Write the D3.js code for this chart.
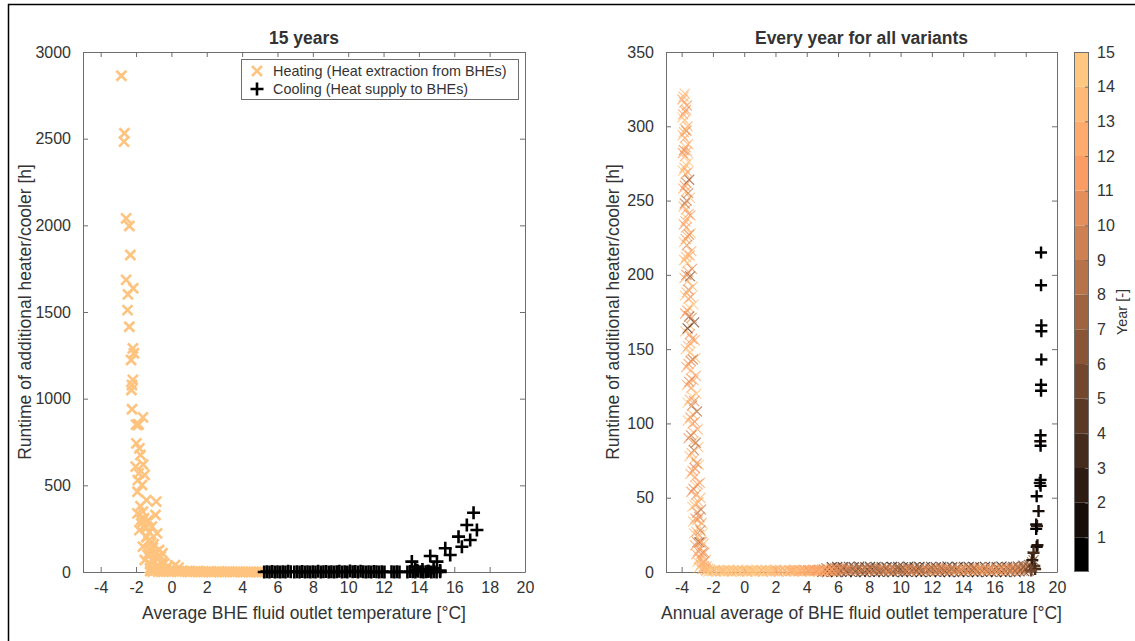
<!DOCTYPE html>
<html lang="en">
<head>
<meta charset="UTF-8">
<title>Heater/cooler runtime vs BHE fluid outlet temperature</title>
<script src="https://d3js.org/d3.v7.min.js"></script>
<style>
  body { margin: 0; background: #fff; font-family: "Liberation Sans", Arial, sans-serif; }
  svg text { fill: #333; }
  .tick line, .domain { stroke: #6e6e6e; }
</style>
</head>
<body>
<div id="chart"></div>
<script>
// ---- data: left panel (15 years) ----
const heatTemp = [-2.83,-2.66,-2.68,-2.56,-2.38,-2.32,-2.56,-2.16,-2.46,-2.48,-2.38,-2.18,-2.12,-2.28,-2.18,-2.23,-2.26,-2.23,-1.61,-2.0,-1.92,-1.85,-1.98,-1.81,-1.75,-2.02,-1.85,-1.51,-1.66,-1.92,-0.86,-1.41,-1.92,-1.61,-1.71,-0.9,-1.31,-1.81,-0.81,-1.41,-1.1,-1.61,-1.21,-0.7,-0.5,-1.51,-1.1,-0.81,-0.4,0.21,-1.21,
  -1.9,-1.6,-1.7,-1.45,-1.3,-1.0,-1.35,-0.95,-0.6,-1.1,-0.7,-0.3,0.0,-0.2,0.4,
  -1.75,-1.55,-1.5,-1.25,-1.4,-1.15,-1.05,-0.85,-1.3,-0.75,-1.0,-0.55,-1.2,-0.9,-0.45,-0.65,
  -1.2,-1.05,-0.9,-0.75,-0.6,-0.45,-0.3,-0.15,0.0,0.15,0.3,0.45,0.6,0.75,0.9,1.05,1.2,1.35,1.5,1.65,1.8,1.95,2.1,2.25,2.4,2.55,2.7,2.85,3.0,3.15,3.3,3.45,3.6,3.75,3.9,4.05,4.2,4.35,4.5,4.65,4.8,4.95,5.1];
const heatRuntime = [2863,2531,2483,2040,1996,1829,1685,1637,1602,1511,1415,1290,1262,1223,1108,1079,1050,939,892,850,848,852,742,713,675,608,569,560,502,463,406,415,338,348,300,329,300,242,223,204,262,146,127,127,108,69,69,79,50,40,21,
  530,620,280,250,180,160,100,110,90,40,30,20,15,35,25,
  380,310,260,230,200,170,140,115,95,85,60,55,45,30,12,10,
  6,2,9,3,11,1,7,2,10,4,6,1,8,3,5,0,4,1,6,0,3,1,4,0,2,1,3,0,2,1,2,0,1,2,0,1,0,1,0,1,0,0,0];
const coolTemp = [5.25,5.4,5.55,5.7,5.85,6.0,6.15,6.3,6.45,6.6,6.75,6.95,7.1,7.25,7.4,7.55,7.7,7.85,8.0,8.15,8.3,8.45,8.6,8.75,8.9,9.05,9.2,9.35,9.5,9.65,9.8,9.95,10.1,10.25,10.4,10.55,10.7,10.85,11.0,11.15,11.3,11.45,11.6,11.75,11.9,12.05,12.45,12.6,12.75,12.9,13.35,13.5,13.65,13.8,13.95,14.1,14.25,14.4,14.55,14.7,14.85,15.0,15.2,
  13.6,13.79,14.64,15.02,14.83,15.49,15.77,16.24,16.43,16.71,16.9,17.09,17.28,13.9,14.2,14.5,15.2];
const coolRuntime = [0,2,0,3,0,1,0,2,0,4,1,0,2,0,3,0,1,0,2,0,5,0,1,3,0,2,0,1,4,0,2,0,6,1,3,0,5,2,0,1,0,3,1,0,2,0,1,0,2,0,0,3,1,0,4,2,0,1,5,0,2,0,1,
  60,27,92,60,21,137,98,204,146,271,185,342,242,10,15,5,8];

// ---- data: right panel (every year, all variants) ----
const varHeatTemp = [
  // steep heating strip: centre column
  -3.8,-3.84,-3.78,-3.82,-3.76,-3.8,-3.74,-3.78,-3.72,-3.76,-3.7,-3.74,-3.68,-3.72,-3.66,-3.7,-3.64,-3.66,-3.62,-3.64,-3.58,-3.6,-3.56,-3.56,-3.52,-3.52,-3.5,-3.48,-3.46,-3.44,-3.42,-3.4,-3.38,-3.38,-3.34,-3.34,-3.3,-3.3,-3.26,-3.24,-3.22,-3.2,-3.16,-3.14,-3.1,-3.08,-3.04,-3.0,-2.98,-2.94,-2.9,-2.86,-2.8,-2.76,-2.7,-2.64,-2.58,-2.5,-2.42,
  // left column
  -3.95,-3.96,-3.94,-3.92,-3.92,-3.9,-3.88,-3.86,-3.86,-3.84,-3.82,-3.8,-3.78,-3.76,-3.74,-3.7,-3.66,-3.62,-3.6,-3.56,-3.5,-3.44,-3.38,-3.32,-3.26,-3.2,-3.14,-3.06,-2.98,-2.9,
  // right column
  -3.66,-3.62,-3.6,-3.56,-3.52,-3.48,-3.44,-3.42,-3.38,-3.34,-3.3,-3.24,-3.2,-3.16,-3.12,-3.1,-3.06,-3.02,-2.98,-2.94,-2.9,-2.84,-2.8,-2.76,-2.72,-2.66,-2.6,-2.54,-2.46,-2.38,-2.3,
  // mid-right column
  -3.72,-3.7,-3.66,-3.62,-3.58,-3.56,-3.52,-3.48,-3.46,-3.42,-3.36,-3.32,-3.28,-3.24,-3.2,-3.16,-3.1,-3.04,-2.98,-2.92,-2.86,-2.8,-2.74,-2.66,-2.58,-2.48,
  // mid-left column
  -3.88,-3.9,-3.86,-3.86,-3.82,-3.8,-3.8,-3.76,-3.74,-3.72,-3.7,-3.68,-3.64,-3.62,-3.58,-3.56,-3.52,-3.48,-3.44,-3.4,-3.36,-3.3,-3.24,-3.18,-3.12,-3.06,-3.0,-2.94,-2.86,-2.78,-2.68,
  // band near zero: dark lower edge
  5.0,5.3,5.65,5.9,6.2,6.55,6.8,7.1,7.45,7.7,8.0,8.35,8.6,8.9,9.25,9.5,9.8,10.15,10.4,10.7,11.05,11.3,11.6,11.95,12.2,12.5,12.85,13.1,13.4,13.75,14.0,14.3,14.65,14.9,15.2,15.55,15.8,16.1,16.45,16.7,17.0,17.35,17.6,17.9,18.2,
  // dark upper edge
  5.6,5.95,6.3,6.7,7.0,7.35,7.75,8.05,8.4,8.8,9.1,9.45,9.85,10.15,10.5,10.9,11.2,11.55,11.95,12.25,12.6,13.0,13.3,13.65,14.05,14.35,14.7,15.1,15.4,15.75,16.15,16.45,16.8,17.2,17.5,17.85,18.2,
  // orange core
  3.0,3.3,3.6,3.9,4.2,4.5,4.8,5.1,5.4,5.7,6.0,6.3,6.6,6.9,7.2,7.5,7.8,8.1,8.4,8.7,9.0,9.3,9.6,9.9,10.2,10.5,10.8,11.1,11.4,11.7,12.0,12.3,12.6,12.9,13.2,13.5,13.8,14.1,14.4,14.7,15.0,15.3,15.6,15.9,16.2,16.5,16.8,17.1,17.4,17.7,18.0,18.25,18.4,18.5,18.45,
  5.15,5.45,5.75,6.05,6.35,6.65,6.95,7.25,7.55,7.85,8.15,8.45,8.75,9.05,9.35,9.65,9.95,10.25,10.55,10.85,11.15,11.45,11.75,12.05,12.35,12.65,12.95,13.25,13.55,13.85,14.15,14.45,14.75,15.05,15.35,15.65,15.95,16.25,16.55,16.85,17.15,17.45,17.75,18.05,
  5.25,5.6,5.95,6.3,6.65,7.0,7.35,7.7,8.05,8.4,8.75,9.1,9.45,9.8,10.15,10.5,10.85,11.2,11.55,11.9,12.25,12.6,12.95,13.3,13.65,14.0,14.35,14.7,15.05,15.4,15.75,16.1,16.45,16.8,17.15,17.5,17.85,18.15,
  // light left part, three rows
  -2.3,-2.05,-1.8,-1.55,-1.3,-1.05,-0.8,-0.55,-0.3,-0.05,0.2,0.45,0.7,0.95,1.2,1.45,1.7,1.95,2.2,2.45,2.7,2.95,3.2,3.45,3.7,3.95,4.2,4.45,4.7,4.95,5.2,5.45,5.7,5.95,
  -2.2,-1.9,-1.6,-1.3,-1.0,-0.7,-0.4,-0.1,0.2,0.5,0.8,1.1,1.4,1.7,2.0,2.3,2.6,2.9,3.2,3.5,3.8,4.1,4.4,4.7,5.0,5.3,5.6,5.9,6.2,
  -2.45,-2.15,-1.9,-1.65,-1.4,-1.15,-0.9,-0.65,-0.4,-0.15,0.1,0.35,0.6,0.85,1.1,1.35,1.6,1.85,2.1,2.35,2.6,2.85,3.1,3.35,3.6,3.85,4.1,4.35,4.6,4.85];
const varHeatRuntime = [
  322,316,310,304,298,292,286,280,274,268,262,256,250,244,238,232,226,220,214,208,202,196,190,184,178,172,166,160,154,148,142,136,130,124,118,112,106,100,94,88,82,76,70,64,58,52,46,40,35,30,25,20,16,12,9,6,4,2,1,
  318,306,294,282,270,258,246,234,222,210,198,186,174,162,150,138,126,114,102,90,78,66,54,44,34,26,18,12,7,3,
  314,300,288,276,264,252,240,228,216,204,192,180,168,156,144,132,120,108,96,84,72,60,50,42,33,26,19,13,8,4,2,
  311,297,283,269,255,241,227,213,199,185,171,157,143,129,115,101,87,73,59,47,37,28,20,13,7,3,
  320,308,296,284,272,260,248,236,224,212,200,188,176,164,152,140,128,116,104,92,80,68,56,45,36,27,20,14,9,5,2,
  0.1,0,0.2,0,0.1,0,0.3,0,0.1,0,0.2,0,0.1,0,0.3,0,0.2,0,0.1,0,0.2,0,0.1,0,0.3,0,0.2,0,0.1,0,0.2,0,0.1,0,0.3,0,0.2,0,0.1,0,0.2,0,0.4,0.6,0.9,
  3.3,3.5,3.2,3.4,3.3,3.6,3.2,3.4,3.5,3.3,3.2,3.5,3.4,3.3,3.6,3.2,3.4,3.3,3.5,3.2,3.4,3.6,3.3,3.2,3.5,3.4,3.3,3.2,3.5,3.4,3.3,3.6,3.4,3.5,3.8,4.2,4.8,
  0.9,1.1,1.0,1.2,1.0,1.3,1.5,1.7,1.6,1.8,1.6,1.7,1.9,1.6,1.8,1.7,1.6,1.9,1.7,1.8,1.6,1.7,1.9,1.8,1.6,1.7,1.8,1.6,1.9,1.7,1.8,1.6,1.7,1.9,1.8,1.6,1.7,1.8,1.9,1.6,1.7,1.8,1.6,1.9,1.7,1.8,2.0,2.2,2.6,3.0,3.4,4.5,6.5,8.0,10.5,
  0.7,0.8,0.6,0.9,0.7,0.8,0.6,0.9,0.7,0.8,0.6,0.9,0.7,0.8,0.6,0.9,0.7,0.8,0.6,0.9,0.7,0.8,0.6,0.9,0.7,0.8,0.6,0.9,0.7,0.8,0.6,0.9,0.7,0.8,0.6,0.9,0.7,0.8,0.6,0.9,0.7,0.8,0.9,1.2,
  2.5,2.4,2.6,2.5,2.3,2.6,2.4,2.5,2.6,2.3,2.5,2.4,2.6,2.5,2.3,2.6,2.4,2.5,2.6,2.3,2.5,2.4,2.6,2.5,2.3,2.6,2.4,2.5,2.6,2.3,2.5,2.4,2.6,2.5,2.7,2.9,3.2,3.6,
  0.3,0.5,0.2,0.4,0.3,0.5,0.2,0.4,0.3,0.5,0.2,0.4,0.3,0.5,0.2,0.4,0.3,0.5,0.2,0.4,0.3,0.5,0.2,0.4,0.3,0.5,0.2,0.4,0.3,0.5,0.2,0.4,0.3,0.5,
  1.4,1.2,1.5,1.3,1.4,1.2,1.5,1.3,1.4,1.2,1.5,1.3,1.4,1.2,1.5,1.3,1.4,1.2,1.5,1.3,1.4,1.2,1.5,1.3,1.6,1.8,2.0,2.2,2.4,
  0.9,0.8,1.0,0.9,0.8,1.0,0.9,0.8,1.0,0.9,0.8,1.0,0.9,0.8,1.0,0.9,0.8,1.0,0.9,0.8,1.0,0.9,0.8,1.0,0.9,0.8,1.0,0.9,0.8,1.0];
const varHeatYear = [
  14,15,13,14,15,12,14,13,15,14,11,14,9,13,15,12,14,10,13,15,12,14,11,13,15,8,14,12,13,15,11,14,12,13,15,10,14,12,13,15,9,14,11,13,15,12,14,10,13,15,12,7,14,13,15,11,14,13,15,
  13,15,14,12,15,13,14,12,15,14,13,15,12,14,14,13,13,15,15,12,14,13,12,15,15,14,13,12,14,15,
  12,14,13,15,8,14,12,15,13,11,14,15,6,13,14,12,15,9,13,14,15,12,14,10,13,15,14,12,13,15,14,
  12,11,13,12,10,12,11,13,7,12,11,12,10,13,11,12,9,11,12,13,11,10,12,11,12,13,
  13,12,14,11,13,12,10,13,12,14,11,13,12,5,13,12,11,13,12,10,13,12,11,14,12,13,11,12,13,14,13,
  3,2,4,1,3,2,4,2,1,3,2,4,1,3,2,4,3,1,2,4,3,1,2,3,4,1,2,3,2,1,4,3,2,1,3,2,4,1,3,2,4,3,5,4,6,
  2,3,1,4,2,3,5,2,4,3,2,1,3,4,2,3,1,2,4,3,5,2,3,1,4,2,3,5,2,4,3,2,4,5,6,5,6,
  13,13,12,12,11,11,10,10,9,10,11,9,10,11,9,10,8,10,11,9,10,11,9,10,11,10,9,11,10,12,10,11,12,11,12,11,12,13,12,12,13,12,12,13,12,13,12,11,12,11,10,9,8,7,6,
  11,12,10,11,12,10,11,12,10,11,12,11,10,12,11,12,10,11,12,11,12,11,12,13,12,11,12,13,12,13,12,13,12,13,13,12,13,13,12,13,12,12,11,10,
  9,10,8,9,10,9,8,10,9,8,10,9,10,8,9,10,9,8,10,9,10,9,10,9,10,11,10,9,11,10,11,10,11,10,9,8,7,6,
  15,14,15,13,14,15,14,13,15,14,13,15,14,15,13,14,15,14,13,15,14,13,15,14,13,15,14,13,14,13,12,13,12,11,
  15,14,15,14,15,14,15,14,15,14,15,13,14,15,14,13,15,14,13,14,13,14,13,12,13,12,12,11,11,
  14,15,14,15,14,15,14,15,14,15,14,15,14,15,14,15,14,14,13,14,13,14,13,14,13,13,12,13,12,13];
const varCoolTemp = [18.98,18.98,19.0,19.0,19.0,18.98,18.98,18.95,18.93,18.95,18.95,18.9,18.95,18.7,18.82,18.67,18.72,18.67,18.75,18.7,18.5,18.42,18.55,18.6,18.35];
const varCoolRuntime = [215,193,166,162,143,126,122,92,88,85,62,60,58,51,41,32,31,29,18,17,13,8,4,2,1];
const varCoolYear = [1,1,1,1,1,1,1,1,2,1,1,2,1,1,2,2,3,1,3,2,4,3,5,4,6];

// ---- tick labels ----
const tempTicks = [-4,-2,0,2,4,6,8,10,12,14,16,18,20];
const runtimeTicks15 = [0,500,1000,1500,2000,2500,3000];
const runtimeTicksAll = [0,50,100,150,200,250,300,350];
const yearTicks = [1,2,3,4,5,6,7,8,9,10,11,12,13,14,15];

const W = 1135, H = 641;
const svg = d3.select("#chart").append("svg").attr("width", W).attr("height", H);

// figure frame (top and left edges visible)
svg.append("line").attr("x1", 8).attr("x2", W).attr("y1", 4.5).attr("y2", 4.5).attr("stroke", "#000").attr("stroke-width", 1.5);
svg.append("line").attr("x1", 8.5).attr("x2", 8.5).attr("y1", 4).attr("y2", H).attr("stroke", "#000").attr("stroke-width", 1.5);

// copper colormap, 15 discrete levels
function copper(t) {
  return d3.rgb(255 * Math.min(1, 1.25 * t), 255 * 0.7812 * t, 255 * 0.4975 * t);
}
const yearColor = y => copper((y - 1) / 14);

const crossPath = s => `M${-s},${-s}L${s},${s}M${-s},${s}L${s},${-s}`;
const plusPath = s => `M${-s},0H${s}M0,${-s}V${s}`;
const fmt = d => d < 0 ? "-" + Math.abs(d) : String(d);

function panel(opts) {
  const { left, right, top, bottom, yMax, yTicks, title, xLabel, yLabelX } = opts;
  const x = d3.scaleLinear().domain([-5, 20]).range([left, right]);
  const y = d3.scaleLinear().domain([0, yMax]).range([bottom, top]);
  const g = svg.append("g");

  const ax = (gen, tr) => {
    const a = g.append("g").attr("transform", tr).call(gen);
    a.selectAll("text").style("font-size", "16px").attr("fill", "#333");
    return a;
  };
  ax(d3.axisBottom(x).tickValues(tempTicks).tickSizeInner(-5).tickSizeOuter(0).tickPadding(10).tickFormat(fmt), `translate(0,${bottom})`);
  ax(d3.axisTop(x).tickValues(tempTicks).tickSizeInner(-5).tickSizeOuter(0).tickFormat(""), `translate(0,${top})`);
  ax(d3.axisLeft(y).tickValues(yTicks).tickSizeInner(-5).tickSizeOuter(0).tickPadding(12).tickFormat(fmt), `translate(${left},0)`);
  ax(d3.axisRight(y).tickValues(yTicks).tickSizeInner(-5).tickSizeOuter(0).tickFormat(""), `translate(${right},0)`);

  g.append("text").attr("x", (left + right) / 2).attr("y", top - 8).attr("text-anchor", "middle")
    .style("font-size", "17.5px").style("font-weight", "bold").attr("fill", "#000").text(title);
  g.append("text").attr("x", (left + right) / 2).attr("y", bottom + 47).attr("text-anchor", "middle")
    .style("font-size", "17.5px").text(xLabel);
  g.append("text").attr("transform", `translate(${yLabelX},${(top + bottom) / 2}) rotate(-90)`)
    .attr("text-anchor", "middle").style("font-size", "17.5px")
    .text("Runtime of additional heater/cooler [h]");

  const plot = g.append("g");
  return { x, y, plot };
}

// ---- left panel ----
const L = panel({ left: 83, right: 525, top: 52, bottom: 572, yMax: 3000, yTicks: runtimeTicks15,
  title: "15 years", xLabel: "Average BHE fluid outlet temperature [\u00B0C]", yLabelX: 31 });

L.plot.selectAll(".heat").data(d3.range(heatTemp.length)).join("path")
  .attr("transform", i => `translate(${L.x(heatTemp[i])},${L.y(heatRuntime[i])})`)
  .attr("d", crossPath(5)).attr("fill", "none").attr("stroke", "#FEC47F").attr("stroke-width", 2.6);
L.plot.selectAll(".cool").data(d3.range(coolTemp.length)).join("path")
  .attr("transform", i => `translate(${L.x(coolTemp[i])},${L.y(coolRuntime[i])})`)
  .attr("d", plusPath(6.5)).attr("fill", "none").attr("stroke", "#000").attr("stroke-width", 2.6);

// legend
const lg = svg.append("g");
lg.append("rect").attr("x", 241.5).attr("y", 59.5).attr("width", 277).attr("height", 40)
  .attr("fill", "#fff").attr("stroke", "#6e6e6e");
lg.append("path").attr("transform", "translate(257,71)").attr("d", crossPath(5))
  .attr("fill", "none").attr("stroke", "#FEC47F").attr("stroke-width", 2.6);
lg.append("path").attr("transform", "translate(257,89)").attr("d", plusPath(6.5))
  .attr("fill", "none").attr("stroke", "#000").attr("stroke-width", 2.6);
lg.append("text").attr("x", 273).attr("y", 76).style("font-size", "14.4px").attr("fill", "#000")
  .text("Heating (Heat extraction from BHEs)");
lg.append("text").attr("x", 273).attr("y", 94).style("font-size", "14.4px").attr("fill", "#000")
  .text("Cooling (Heat supply to BHEs)");

// ---- right panel ----
const R = panel({ left: 666, right: 1057, top: 52, bottom: 572, yMax: 350, yTicks: runtimeTicksAll,
  title: "Every year for all variants", xLabel: "Annual average of BHE fluid outlet temperature [\u00B0C]", yLabelX: 619 });

R.plot.selectAll(".vheat").data(d3.range(varHeatTemp.length)).join("path")
  .attr("transform", i => `translate(${R.x(varHeatTemp[i])},${R.y(varHeatRuntime[i])})`)
  .attr("d", crossPath(5)).attr("fill", "none")
  .attr("stroke", i => yearColor(varHeatYear[i])).attr("stroke-width", 1.2).attr("stroke-opacity", 0.75);
R.plot.selectAll(".vcool").data(d3.range(varCoolTemp.length)).join("path")
  .attr("transform", i => `translate(${R.x(varCoolTemp[i])},${R.y(varCoolRuntime[i])})`)
  .attr("d", plusPath(6)).attr("fill", "none")
  .attr("stroke", i => yearColor(varCoolYear[i])).attr("stroke-width", 2.4);

// ---- colorbar ----
const cb = svg.append("g");
const cy = d3.scaleLinear().domain([0, 15]).range([572, 52]);
const cbX = 1074, cbW = 15;
cb.selectAll("rect.band").data(yearTicks).join("rect")
  .attr("x", cbX).attr("width", cbW)
  .attr("y", d => cy(d)).attr("height", d => cy(d - 1) - cy(d))
  .attr("fill", d => yearColor(d));
cb.append("rect").attr("x", cbX + 0.5).attr("y", 52.5).attr("width", cbW - 1).attr("height", 519)
  .attr("fill", "none").attr("stroke", "#6e6e6e");
const cax = cb.append("g").attr("transform", `translate(${cbX + cbW},0)`)
  .call(d3.axisRight(cy).tickValues(yearTicks).tickSizeInner(-4).tickSizeOuter(0).tickPadding(8));
cax.select(".domain").remove();
cax.selectAll("text").style("font-size", "16px").attr("fill", "#333");
cb.append("text").attr("transform", `translate(1127,${(52 + 572) / 2}) rotate(-90)`)
  .attr("text-anchor", "middle").style("font-size", "14.4px").text("Year [-]");
</script>
</body>
</html>
